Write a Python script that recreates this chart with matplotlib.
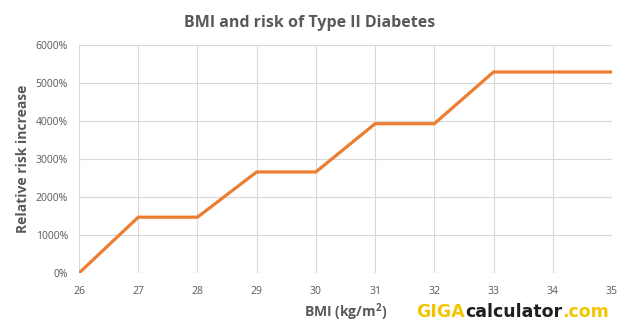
import matplotlib.pyplot as plt
from matplotlib.ticker import FuncFormatter

bmi = [26, 27, 28, 29, 30, 31, 32, 33, 34, 35]
risk = [0, 1470, 1470, 2660, 2660, 3930, 3930, 5290, 5290, 5290]
y_ticks = [0, 1000, 2000, 3000, 4000, 5000, 6000]

plt.rcParams['font.family'] = ['Open Sans', 'DejaVu Sans']
gray = '#595959'

fig = plt.figure(figsize=(6.27, 3.31), dpi=100)
ax = fig.add_axes([0.126, 0.175, 0.85, 0.689])

ax.plot(bmi, risk, color='#ED7D31', linewidth=2.3, solid_joinstyle='miter')

ax.set_xlim(26, 35)
ax.set_ylim(0, 6000)
ax.set_xticks(bmi)
ax.set_yticks(y_ticks)
ax.yaxis.set_major_formatter(FuncFormatter(lambda v, p: f"{v:.0f}%"))
ax.grid(True, color='#D9D9D9', linewidth=0.8)
ax.set_axisbelow(True)
for s in ax.spines.values():
    s.set_visible(False)
ax.tick_params(length=0, colors=gray, labelsize=7.5)
ax.tick_params(axis='x', pad=9)
ax.tick_params(axis='y', pad=8)

fig.text(0.494, 0.932, 'BMI and risk of Type II Diabetes', ha='center', va='center',
         fontsize=11.5, fontweight='bold', color=gray)
fig.text(0.037, 0.52, 'Relative risk increase', ha='center', va='center', rotation=90,
         fontsize=10, fontweight='bold', color=gray)
fig.text(0.551, 0.058, 'BMI (kg/m$^\\mathregular{2}$)', ha='center', va='center',
         fontsize=10, fontweight='bold', color=gray)

# logo
logo_parts = [('GIGA', '#F5C400'), ('calculator', '#1E1E1E'), ('.com', '#F5C400')]
x = 0.664
renderer = fig.canvas.get_renderer()
for txt, col in logo_parts:
    t = fig.text(x, 0.058, txt, ha='left', va='center', fontsize=12.5,
                 fontweight='bold', color=col, family=['DejaVu Sans'])
    bb = t.get_window_extent(renderer=renderer)
    x += bb.width / fig.bbox.width

fig.savefig('out.png', dpi=100)
